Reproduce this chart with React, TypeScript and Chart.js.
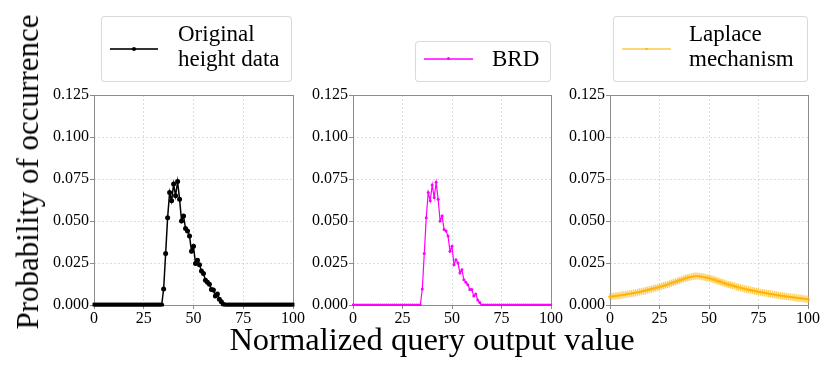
import React, { useEffect, useRef } from 'react';
import { Chart, registerables } from 'chart.js';

Chart.register(...registerables);

// ---------- data ----------
const xValues = [
  0, 1, 2, 3, 4, 5, 6, 7, 8, 9,
  10, 11, 12, 13, 14, 15, 16, 17, 18, 19,
  20, 21, 22, 23, 24, 25, 26, 27, 28, 29,
  30, 31, 32, 33, 34, 35, 36, 37, 38, 39,
  40, 41, 42, 43, 44, 45, 46, 47, 48, 49,
  50, 51, 52, 53, 54, 55, 56, 57, 58, 59,
  60, 61, 62, 63, 64, 65, 66, 67, 68, 69,
  70, 71, 72, 73, 74, 75, 76, 77, 78, 79,
  80, 81, 82, 83, 84, 85, 86, 87, 88, 89,
  90, 91, 92, 93, 94, 95, 96, 97, 98, 99,
  100,
];

const originalValues = [
  0, 0, 0, 0, 0, 0, 0, 0, 0, 0,
  0, 0, 0, 0, 0, 0, 0, 0, 0, 0,
  0, 0, 0, 0, 0, 0, 0, 0, 0, 0,
  0, 0, 0, 0, 0, 0.0095, 0.0306, 0.052, 0.067, 0.062,
  0.072, 0.065, 0.0735, 0.063, 0.05, 0.053, 0.0455, 0.044, 0.041, 0.032,
  0.035, 0.0247, 0.0267, 0.024, 0.0203, 0.0188, 0.0148, 0.0136, 0.0124, 0.0093,
  0.0089, 0.0053, 0.0065, 0.0034, 0.002, 0.0005, 0, 0, 0, 0,
  0, 0, 0, 0, 0, 0, 0, 0, 0, 0,
  0, 0, 0, 0, 0, 0, 0, 0, 0, 0,
  0, 0, 0, 0, 0, 0, 0, 0, 0, 0,
  0,
];

const brdValues = [
  0, 0, 0, 0, 0, 0, 0, 0, 0, 0,
  0, 0, 0, 0, 0, 0, 0, 0, 0, 0,
  0, 0, 0, 0, 0, 0, 0, 0, 0, 0,
  0, 0, 0, 0, 0, 0.0095, 0.0306, 0.052, 0.067, 0.062,
  0.0715, 0.064, 0.073, 0.063, 0.05, 0.053, 0.045, 0.044, 0.041, 0.032,
  0.035, 0.024, 0.027, 0.025, 0.019, 0.021, 0.015, 0.0136, 0.012, 0.0093,
  0.0093, 0.0053, 0.0065, 0.003, 0.0015, 0, 0, 0, 0, 0,
  0, 0, 0, 0, 0, 0, 0, 0, 0, 0,
  0, 0, 0, 0, 0, 0, 0, 0, 0, 0,
  0, 0, 0, 0, 0, 0, 0, 0, 0, 0,
  0,
];

const laplaceValues = [
  0.0049, 0.0051, 0.0052, 0.0054, 0.0056, 0.0057, 0.0059, 0.0061, 0.0063, 0.0065,
  0.0067, 0.0069, 0.0071, 0.0073, 0.0076, 0.0078, 0.0081, 0.0083, 0.0086, 0.0089,
  0.0092, 0.0095, 0.0098, 0.0101, 0.0104, 0.0108, 0.0111, 0.0115, 0.0118, 0.0122,
  0.0126, 0.013, 0.0134, 0.0138, 0.0142, 0.0146, 0.015, 0.0154, 0.0158, 0.0162,
  0.0165, 0.0168, 0.017, 0.0172, 0.0172, 0.0171, 0.0169, 0.0167, 0.0165, 0.0162,
  0.016, 0.0157, 0.0153, 0.0149, 0.0145, 0.0141, 0.0137, 0.0133, 0.0129, 0.0125,
  0.0122, 0.0118, 0.0115, 0.0112, 0.0108, 0.0105, 0.0102, 0.0099, 0.0096, 0.0093,
  0.0091, 0.0088, 0.0086, 0.0083, 0.0081, 0.0079, 0.0076, 0.0074, 0.0072, 0.007,
  0.0068, 0.0066, 0.0064, 0.0062, 0.006, 0.0058, 0.0056, 0.0054, 0.0053, 0.0051,
  0.0049, 0.0048, 0.0046, 0.0045, 0.0043, 0.0042, 0.004, 0.0039, 0.0037, 0.0035,
  0.0033,
];

const xTicks = [0, 25, 50, 75, 100];
const yTicks = [0, 0.025, 0.05, 0.075, 0.1, 0.125];
const legendOriginal = ['Original', 'height data'];
const legendBrd = ['BRD'];
const legendLaplace = ['Laplace', 'mechanism'];
const xTitle = 'Normalized query output value';
const yTitle = 'Probability of occurrence';

// ---------- layout / style ----------
const W = 830;
const H = 378;
const FONT = "'Liberation Serif', 'Times New Roman', serif";
const PLOT_TOP = 95;
const PLOT_BOTTOM = 305;
const Y_AXIS_W = 60;
const X_AXIS_H = 25;
const GRID_COLOR = 'rgba(176,196,204,0.55)';

const panels = [
  {
    values: originalValues,
    left: 94,
    right: 293,
    color: '#000000',
    lineWidth: 1.5,
    pointStyle: 'circle',
    pointRadius: 2.5,
    pointBorderWidth: 0,
    clip: 1.5,
  },
  {
    values: brdValues,
    left: 353,
    right: 551,
    color: '#ff00ff',
    lineWidth: 1.2,
    pointStyle: 'circle',
    pointRadius: 1.5,
    pointBorderWidth: 0,
    clip: 1,
  },
  {
    values: laplaceValues,
    left: 610,
    right: 808,
    color: 'rgba(255,178,0,0.65)',
    lineWidth: 1.5,
    pointStyle: 'cross',
    pointRadius: 3.6,
    pointBorderWidth: 1.4,
    clip: 2,
  },
];

const framePlugin = {
  id: 'frame',
  beforeDatasetsDraw(chart: any) {
    const { ctx, chartArea } = chart;
    const l = Math.round(chartArea.left) + 0.5;
    const t = Math.round(chartArea.top) + 0.5;
    const r = Math.round(chartArea.right) + 0.5;
    const b = Math.round(chartArea.bottom) + 0.5;
    ctx.save();
    ctx.strokeStyle = '#8c8c8c';
    ctx.lineWidth = 1;
    ctx.strokeRect(l, t, r - l, b - t);
    ctx.restore();
  },
};

function LegendBox(props: {
  left: number; top: number; width: number; height: number;
  lineX: number; lineY: number; lineW: number; color: string; dotColor: string; dotR: number;
  textLeft: number; textTop: number; lines: string[];
}) {
  const p = props;
  return (
    <>
      <div
        style={{
          position: 'absolute', left: p.left, top: p.top, width: p.width, height: p.height,
          boxSizing: 'border-box', border: '1px solid rgba(214,214,214,0.9)', borderRadius: 4,
          background: 'rgba(255,255,255,0.8)',
        }}
      />
      <div
        style={{
          position: 'absolute', left: p.lineX, top: p.lineY - 1, width: p.lineW, height: 1.5,
          background: p.color,
        }}
      />
      <div
        style={{
          position: 'absolute', left: p.lineX + p.lineW / 2 - p.dotR, top: p.lineY - 0.25 - p.dotR,
          width: p.dotR * 2, height: p.dotR * 2, borderRadius: '50%', background: p.dotColor,
        }}
      />
      <div
        style={{
          position: 'absolute', left: p.textLeft, top: p.textTop, fontFamily: FONT,
          fontSize: 23, lineHeight: '25px', color: '#000', whiteSpace: 'nowrap',
        }}
      >
        {p.lines.map((t, i) => (
          <div key={i}>{t}</div>
        ))}
      </div>
    </>
  );
}

export default function App() {
  const refs = [useRef<HTMLCanvasElement>(null), useRef<HTMLCanvasElement>(null), useRef<HTMLCanvasElement>(null)];

  useEffect(() => {
    document.body.style.margin = '0';
    const charts: Chart[] = [];
    panels.forEach((p, idx) => {
      const canvas = refs[idx].current;
      if (!canvas) return;
      const chart = new Chart(canvas, {
        type: 'line',
        data: {
          datasets: [
            {
              data: xValues.map((x, k) => ({ x, y: p.values[k] })),
              borderColor: p.color,
              backgroundColor: p.color,
              borderWidth: p.lineWidth,
              pointStyle: p.pointStyle as any,
              pointRadius: p.pointRadius,
              pointBorderWidth: p.pointBorderWidth,
              pointBorderColor: p.color,
              pointBackgroundColor: p.color,
              pointHoverRadius: p.pointRadius,
              tension: 0,
              fill: false,
              clip: p.clip,
            } as any,
          ],
        },
        options: {
          responsive: false,
          animation: false,
          devicePixelRatio: 1,
          events: [],
          layout: {
            padding: {
              left: p.left - Y_AXIS_W,
              right: W - p.right,
              top: PLOT_TOP,
              bottom: H - PLOT_BOTTOM - X_AXIS_H,
            },
          },
          plugins: {
            legend: { display: false },
            tooltip: { enabled: false },
          },
          scales: {
            x: {
              type: 'linear',
              min: 0,
              max: 100,
              afterBuildTicks: (s: any) => {
                s.ticks = xTicks.map((v) => ({ value: v }));
              },
              afterFit: (s: any) => {
                s.height = X_AXIS_H;
              },
              ticks: {
                color: '#000',
                font: { family: FONT, size: 16 },
                padding: 0,
                maxRotation: 0,
                autoSkip: false,
                callback: (v: any) => String(v),
              },
              grid: {
                color: GRID_COLOR,
                lineWidth: 1,
                tickLength: 4,
                tickColor: '#8c8c8c',
              },
              border: { display: false, dash: [2, 2] },
            },
            y: {
              type: 'linear',
              min: 0,
              max: 0.125,
              afterBuildTicks: (s: any) => {
                s.ticks = yTicks.map((v) => ({ value: v }));
              },
              afterFit: (s: any) => {
                s.width = Y_AXIS_W;
              },
              ticks: {
                color: '#000',
                font: { family: FONT, size: 16 },
                padding: 1,
                autoSkip: false,
                callback: (v: any) => Number(v).toFixed(3),
              },
              grid: {
                color: GRID_COLOR,
                lineWidth: 1,
                tickLength: 4,
                tickColor: '#8c8c8c',
              },
              border: { display: false, dash: [2, 2] },
            },
          },
        } as any,
        plugins: [framePlugin],
      });
      charts.push(chart);
    });
    return () => {
      charts.forEach((c) => c.destroy());
    };
  }, []);

  return (
    <div style={{ position: 'relative', width: W, height: H, background: '#fff', overflow: 'hidden' }}>
      {panels.map((_, i) => (
        <canvas
          key={i}
          ref={refs[i]}
          width={W}
          height={H}
          style={{ position: 'absolute', left: 0, top: 0, width: W, height: H }}
        />
      ))}
      <LegendBox
        left={101} top={16} width={191} height={66}
        lineX={110} lineY={49} lineW={48} color="#333" dotColor="#000" dotR={2.2}
        textLeft={178} textTop={21} lines={legendOriginal}
      />
      <LegendBox
        left={415} top={41} width={136} height={41}
        lineX={424} lineY={59} lineW={49} color="rgba(255,0,255,0.75)" dotColor="#ff00ff" dotR={1.6}
        textLeft={492} textTop={46} lines={legendBrd}
      />
      <LegendBox
        left={613} top={16} width={195} height={66}
        lineX={622} lineY={49} lineW={49} color="rgba(255,196,60,0.7)" dotColor="rgba(255,178,0,0.8)" dotR={1.2}
        textLeft={689} textTop={21} lines={legendLaplace}
      />
      <div
        style={{
          position: 'absolute', left: 432, top: 321, transform: 'translateX(-50%)',
          fontFamily: FONT, fontSize: 32.5, color: '#000', whiteSpace: 'nowrap',
        }}
      >
        {xTitle}
      </div>
      <div
        style={{
          position: 'absolute', left: 28, top: 172, transform: 'translate(-50%, -50%) rotate(-90deg)',
          fontFamily: FONT, fontSize: 31, color: '#000', whiteSpace: 'nowrap',
        }}
      >
        {yTitle}
      </div>
    </div>
  );
}
